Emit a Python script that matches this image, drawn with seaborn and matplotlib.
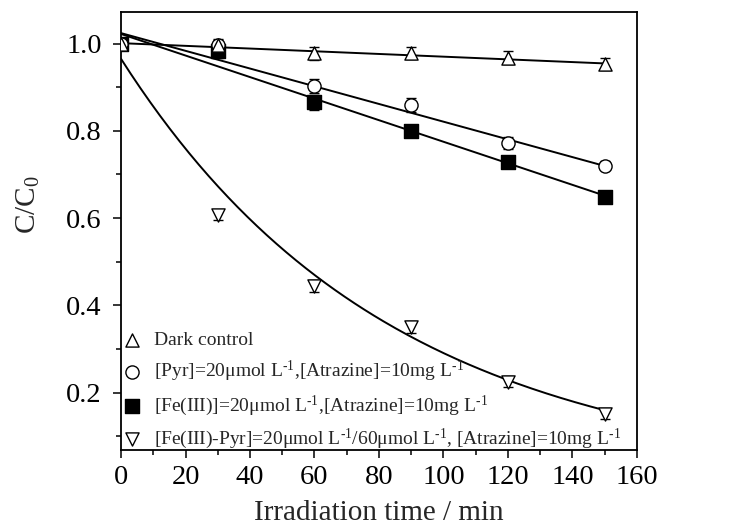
import numpy as np
import pandas as pd
import matplotlib
matplotlib.use("Agg")
import matplotlib.pyplot as plt
import seaborn as sns

# ---- data ----
time_min = [0, 30, 60, 90, 120, 150]
dark_control = [1.000, 0.997, 0.978, 0.978, 0.968, 0.953]
dark_err = [0.012, 0.012, 0.015, 0.014, 0.015, 0.014]
pyr_only = [1.000, 0.996, 0.903, 0.860, 0.772, 0.720]
pyr_err = [0.012, 0.014, 0.016, 0.016, 0.014, 0.010]
fe_only = [1.000, 0.982, 0.865, 0.800, 0.728, 0.648]
fe_err = [0.012, 0.014, 0.018, 0.012, 0.010, 0.008]
fe_pyr = [1.000, 0.607, 0.445, 0.350, 0.225, 0.152]
fe_pyr_err = [0.012, 0.012, 0.014, 0.014, 0.012, 0.012]

# fitted model parameters
dark_fit = (1.001, -0.00031)      # intercept, slope
pyr_fit = (1.024, -0.00203)
fe_fit = (1.022, -0.00247)
fepyr_fit = (0.965, 0.0120)       # amplitude, rate (exponential decay)

SUP = r"$^{\text{-1}}$"
labels = [
    "Dark control",
    "[Pyr]=20μmol L" + SUP + ",[Atrazine]=10mg L" + SUP,
    "[Fe(III)]=20μmol L" + SUP + ",[Atrazine]=10mg L" + SUP,
    "[Fe(III)-Pyr]=20μmol L" + SUP + "/60μmol L" + SUP + ", [Atrazine]=10mg L" + SUP,
]
x_ticks = [0, 20, 40, 60, 80, 100, 120, 140, 160]
y_ticks = [0.2, 0.4, 0.6, 0.8, 1.0]

sns.set_theme(style="ticks")
plt.rcParams["font.family"] = ["Liberation Serif", "DejaVu Serif"]
plt.rcParams["mathtext.fontset"] = "custom"
plt.rcParams["mathtext.rm"] = "Liberation Serif"
plt.rcParams["mathtext.it"] = "Liberation Serif:italic"

fig = plt.figure(figsize=(7.38, 5.29), dpi=100)
ax = fig.add_axes([0.164, 0.149, 0.699, 0.828])

xs = np.linspace(0, 150, 200)
fits = pd.DataFrame({
    "x": np.concatenate([xs] * 4),
    "y": np.concatenate([
        dark_fit[0] + dark_fit[1] * xs,
        pyr_fit[0] + pyr_fit[1] * xs,
        fe_fit[0] + fe_fit[1] * xs,
        fepyr_fit[0] * np.exp(-fepyr_fit[1] * xs),
    ]),
    "series": np.repeat(["d", "p", "f", "fp"], len(xs)),
})
sns.lineplot(data=fits, x="x", y="y", units="series", estimator=None,
             color="black", lw=1.4, ax=ax, legend=False)

series = [
    (dark_control, dark_err, "^", "white"),
    (pyr_only, pyr_err, "o", "white"),
    (fe_only, fe_err, "s", "black"),
    (fe_pyr, fe_pyr_err, "v", "white"),
]
handles = [None] * 4
# draw in reverse so that "Dark control" lies on top
for i in [3, 2, 1, 0]:
    vals, err, mk, fc = series[i]
    ax.errorbar(time_min, vals, yerr=err, fmt="none", ecolor="black",
                elinewidth=1.0, capsize=3.5, capthick=1.0, zorder=3)
    h = ax.scatter(time_min, vals, marker=mk, s=90, facecolors=fc,
                   edgecolors="black", linewidths=1.0, zorder=4 + (3 - i) * 0.1,
                   label=labels[i])
    handles[i] = h

ax.legend(handles=handles, labels=labels, loc="lower left",
          bbox_to_anchor=(-0.032, -0.038), frameon=False, fontsize=14,
          handletextpad=0.55, labelspacing=0.48, borderpad=0.3,
          handlelength=1.2, scatterpoints=1)

ax.set_xlim(0, 160)
ax.set_ylim(0.068, 1.072)
ax.set_xticks(x_ticks)
ax.set_yticks(y_ticks)
ax.set_xticks(np.arange(10, 160, 20), minor=True)
ax.set_yticks([0.1, 0.3, 0.5, 0.7, 0.9], minor=True)
ax.set_yticklabels([f"{v:.1f}" for v in y_ticks])
ax.tick_params(axis="both", which="major", direction="out", length=6,
               width=1.1, labelsize=20.5, colors="black", pad=5)
ax.tick_params(axis="y", which="major", pad=8)
ax.tick_params(axis="both", which="minor", direction="out", length=3.5,
               width=1.1, colors="black")
for sp in ax.spines.values():
    sp.set_visible(True)
    sp.set_linewidth(1.3)
    sp.set_color("black")

ax.set_xlabel("Irradiation time / min", fontsize=21, labelpad=7)
ax.set_ylabel(r"C/C$_{\mathregular{0}}$", fontsize=21)
ax.yaxis.set_label_coords(-0.153, 0.56)

fig.savefig("out.png", dpi=100, facecolor="white")
